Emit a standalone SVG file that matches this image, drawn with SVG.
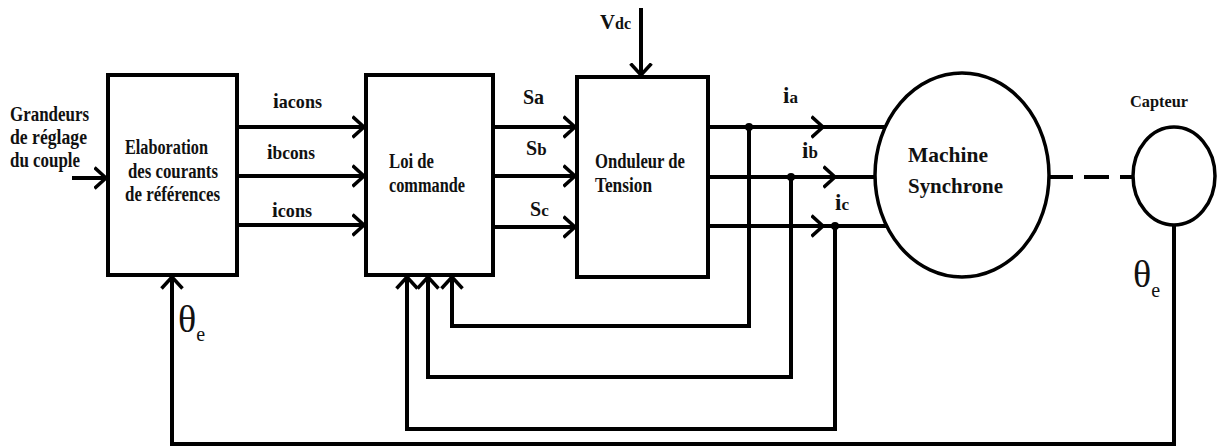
<svg xmlns="http://www.w3.org/2000/svg" width="1218" height="448" viewBox="0 0 1218 448">
<style>
.box{fill:#fff;stroke:#000;stroke-width:4}
.ell{fill:#fff;stroke:#000;stroke-width:3.5}
.w{fill:none;stroke:#000;stroke-width:4}
.lbl{font-family:"Liberation Serif","Times New Roman",serif;font-weight:bold;fill:#111}
.th{font-family:"Liberation Serif","Times New Roman",serif;fill:#111}
</style>
<defs>
<marker id="ah" viewBox="0 0 14 24" refX="12.5" refY="12" markerWidth="14" markerHeight="24" markerUnits="userSpaceOnUse" orient="auto">
<path d="M1,1.5 L12.5,12 L1,22.5" fill="none" stroke="#000" stroke-width="3.5"/>
</marker>
</defs>
<rect width="1218" height="448" fill="#fff"/>
<g id="connectors">
<line class="w" x1="72" y1="178" x2="106" y2="178" marker-end="url(#ah)"/>
<line class="w" x1="237" y1="127" x2="364" y2="127" marker-end="url(#ah)"/>
<line class="w" x1="237" y1="176" x2="364" y2="176" marker-end="url(#ah)"/>
<line class="w" x1="237" y1="225" x2="364" y2="225" marker-end="url(#ah)"/>
<line class="w" x1="493" y1="127" x2="575" y2="127" marker-end="url(#ah)"/>
<line class="w" x1="493" y1="176" x2="575" y2="176" marker-end="url(#ah)"/>
<line class="w" x1="493" y1="227" x2="575" y2="227" marker-end="url(#ah)"/>
<line class="w" x1="641" y1="8" x2="641" y2="75" marker-end="url(#ah)"/>
<line class="w" x1="708" y1="127" x2="823" y2="127" marker-end="url(#ah)"/>
<line class="w" x1="821" y1="127" x2="895" y2="127"/>
<line class="w" x1="708" y1="177" x2="835" y2="177" marker-end="url(#ah)"/>
<line class="w" x1="833" y1="177" x2="880" y2="177"/>
<line class="w" x1="708" y1="226" x2="823" y2="226" marker-end="url(#ah)"/>
<line class="w" x1="821" y1="226" x2="895" y2="226"/>
<line class="w" x1="1048" y1="177" x2="1133" y2="177" stroke-dasharray="25,11"/>
<path class="w" d="M749,127 V326 H452 V277" marker-end="url(#ah)"/>
<path class="w" d="M791,177 V377 H428 V277" marker-end="url(#ah)"/>
<path class="w" d="M835,226 V429 H407 V277" marker-end="url(#ah)"/>
<path class="w" d="M1174,225 V444 H172 V277" marker-end="url(#ah)"/>
<circle cx="749" cy="127" r="4" fill="#000"/>
<circle cx="791" cy="177" r="4" fill="#000"/>
<circle cx="835" cy="226" r="4" fill="#000"/>
</g>
<g id="input">
<text class="lbl" font-size="20" x="10" y="121" textLength="79" lengthAdjust="spacingAndGlyphs">Grandeurs</text>
<text class="lbl" font-size="20" x="10" y="144" textLength="77" lengthAdjust="spacingAndGlyphs">de réglage</text>
<text class="lbl" font-size="20" x="10" y="167" textLength="70" lengthAdjust="spacingAndGlyphs">du couple</text>
</g>
<g id="elaboration">
<rect class="box" x="108" y="75" width="129" height="200"/>
<text class="lbl" font-size="20" x="125" y="154" textLength="83" lengthAdjust="spacingAndGlyphs">Elaboration</text>
<text class="lbl" font-size="20" x="128" y="178" textLength="90" lengthAdjust="spacingAndGlyphs">des courants</text>
<text class="lbl" font-size="20" x="125" y="201" textLength="95" lengthAdjust="spacingAndGlyphs">de références</text>
</g>
<g id="labels-cons">
<text class="lbl" font-size="19" x="273" y="108" textLength="49" lengthAdjust="spacingAndGlyphs"><tspan font-size="22">i</tspan>acons</text>
<text class="lbl" font-size="19" x="267" y="159" textLength="48" lengthAdjust="spacingAndGlyphs"><tspan font-size="22">i</tspan>bcons</text>
<text class="lbl" font-size="19" x="272" y="217" textLength="40" lengthAdjust="spacingAndGlyphs"><tspan font-size="22">i</tspan>cons</text>
</g>
<g id="loi">
<rect class="box" x="366" y="75" width="127" height="200"/>
<text class="lbl" font-size="20" x="389" y="168" textLength="45" lengthAdjust="spacingAndGlyphs">Loi de</text>
<text class="lbl" font-size="20" x="389" y="192" textLength="76" lengthAdjust="spacingAndGlyphs">commande</text>
</g>
<g id="labels-s">
<text class="lbl" font-size="20" x="523" y="104">Sa</text>
<text class="lbl" font-size="20" x="526" y="155">S<tspan font-size="17">b</tspan></text>
<text class="lbl" font-size="20" x="530" y="216">S<tspan font-size="17">c</tspan></text>
</g>
<g id="onduleur">
<rect class="box" x="577" y="77" width="131" height="200"/>
<text class="lbl" font-size="20" x="595" y="168" textLength="90" lengthAdjust="spacingAndGlyphs">Onduleur de</text>
<text class="lbl" font-size="20" x="595" y="192" textLength="57" lengthAdjust="spacingAndGlyphs">Tension</text>
<text class="lbl" font-size="22" x="600" y="29" textLength="31" lengthAdjust="spacingAndGlyphs">V<tspan font-size="17">dc</tspan></text>
</g>
<g id="labels-phase">
<text class="lbl" font-size="23" x="783" y="103">i<tspan font-size="17">a</tspan></text>
<text class="lbl" font-size="23" x="802" y="158">i<tspan font-size="17">b</tspan></text>
<text class="lbl" font-size="23" x="835" y="210">i<tspan font-size="17">c</tspan></text>
</g>
<g id="machine">
<ellipse class="ell" cx="962" cy="175" rx="87" ry="102"/>
<text class="lbl" font-size="21" x="908" y="162" textLength="80" lengthAdjust="spacingAndGlyphs">Machine</text>
<text class="lbl" font-size="21" x="908" y="193" textLength="95" lengthAdjust="spacingAndGlyphs">Synchrone</text>
</g>
<g id="capteur">
<ellipse class="ell" cx="1174" cy="176" rx="41" ry="49"/>
<text class="lbl" font-size="17" x="1130" y="107" textLength="58" lengthAdjust="spacingAndGlyphs">Capteur</text>
</g>
<g id="theta">
<text class="th" font-size="38" x="178" y="332">θ<tspan font-size="20" dy="9">e</tspan></text>
<text class="th" font-size="38" x="1133" y="287">θ<tspan font-size="20" dy="10">e</tspan></text>
</g>
</svg>
